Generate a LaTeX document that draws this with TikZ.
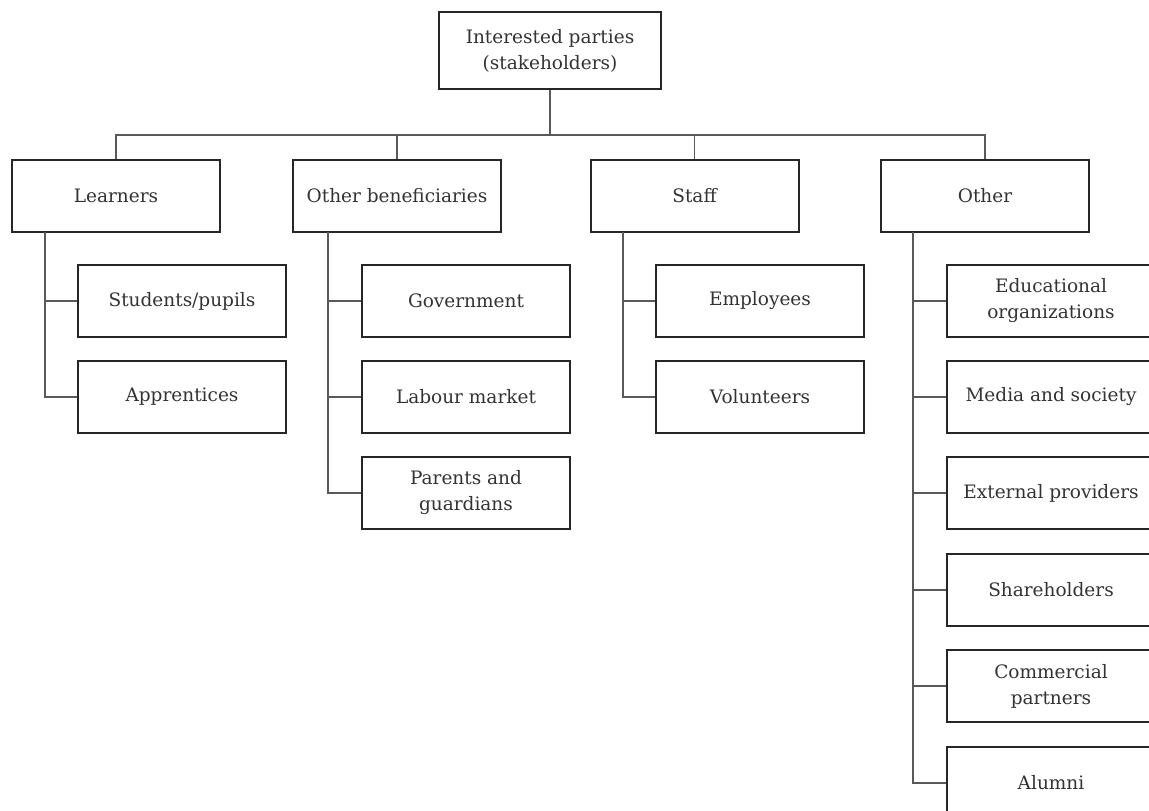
\documentclass[tikz,border=0pt]{standalone}
\usepackage{fontspec}
\setmainfont{DejaVu Serif}
\begin{document}
\begin{tikzpicture}[x=1pt,y=-1pt,
  box/.style={draw=black!85, line width=2pt, fill=white, minimum width=208pt, minimum height=72pt, align=center, inner sep=2pt, text=black!80, font=\fontsize{18.5}{26}\selectfont},
  lnk/.style={draw=black!65, line width=1.3pt}]
\useasboundingbox (0,0) rectangle (1149,811);
\node[box, minimum width=222pt, minimum height=77pt] (root) at (550,50.5) {Interested parties\\(stakeholders)};
\node[box] (l) at (116,195.5) {Learners};
\node[box] (o) at (397,195.5) {Other beneficiaries};
\node[box] (s) at (694.5,195.5) {Staff};
\node[box] (x) at (985,195.5) {Other};
% children
\node[box] (l1) at (182,301) {Students/pupils};
\node[box] (l2) at (182,397) {Apprentices};
\node[box] (o1) at (466,301) {Government};
\node[box] (o2) at (466,397) {Labour market};
\node[box] (o3) at (466,493) {Parents and\\guardians};
\node[box] (s1) at (760,301) {Employees};
\node[box] (s2) at (760,397) {Volunteers};
\node[box] (x1) at (1051,301) {Educational\\organizations};
\node[box] (x2) at (1051,397) {Media and society};
\node[box] (x3) at (1051,493) {External providers};
\node[box] (x4) at (1051,590) {Shareholders};
\node[box] (x5) at (1051,686) {Commercial\\partners};
\node[box] (x6) at (1051,783) {Alumni};
% bus
\coordinate (bus) at (550,135);
\draw[lnk] (root.south) -- (bus);
\draw[lnk] (l.north) -- (l.north |- bus) -- (x.north |- bus) -- (x.north);
\draw[lnk] (o.north) -- (o.north |- bus);
\draw[lnk] (s.north) -- (s.north |- bus);
% branches
\coordinate (lv) at (45,232);
\coordinate (ov) at (328,232);
\coordinate (sv) at (623,232);
\coordinate (xv) at (913,232);
\draw[lnk] (lv) -- (lv |- l2.west) -- (l2.west);
\draw[lnk] (lv |- l1.west) -- (l1.west);
\draw[lnk] (ov) -- (ov |- o3.west) -- (o3.west);
\draw[lnk] (ov |- o1.west) -- (o1.west);
\draw[lnk] (ov |- o2.west) -- (o2.west);
\draw[lnk] (sv) -- (sv |- s2.west) -- (s2.west);
\draw[lnk] (sv |- s1.west) -- (s1.west);
\draw[lnk] (xv) -- (xv |- x6.west) -- (x6.west);
\foreach \n in {x1,x2,x3,x4,x5} \draw[lnk] (xv |- \n.west) -- (\n.west);
\end{tikzpicture}
\end{document}
